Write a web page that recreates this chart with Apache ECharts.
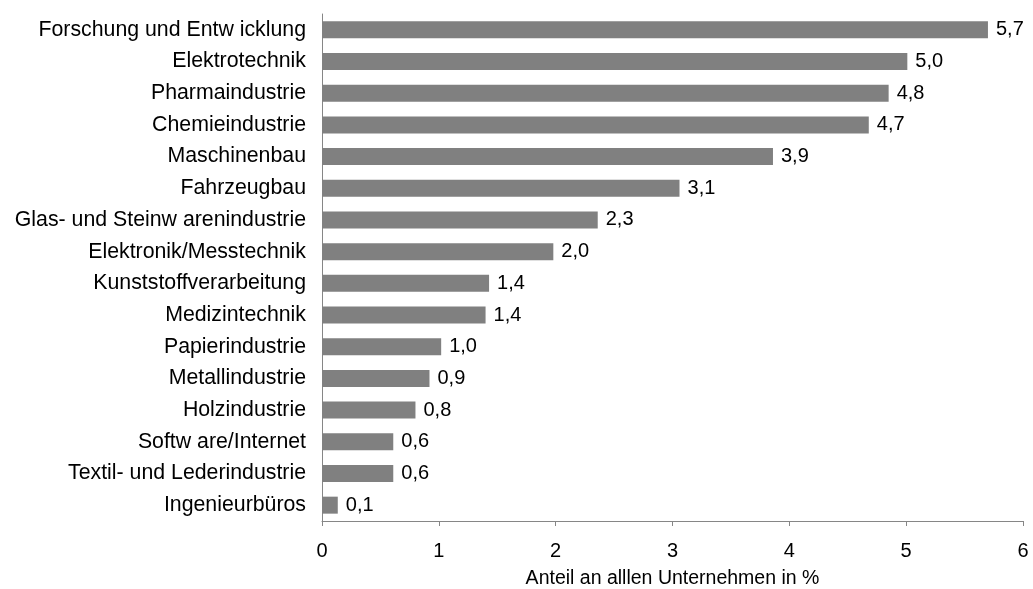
<!DOCTYPE html>
<html>
<head>
<meta charset="utf-8">
<script src="https://cdn.jsdelivr.net/npm/echarts@6/dist/echarts.min.js"></script>
<style>
html,body{margin:0;padding:0;background:#fff;}
#chart{width:1033px;height:589px;}
</style>
</head>
<body>
<div id="chart"></div>
<script>
const categories = [
  "Forschung und Entw icklung",
  "Elektrotechnik",
  "Pharmaindustrie",
  "Chemieindustrie",
  "Maschinenbau",
  "Fahrzeugbau",
  "Glas- und Steinw arenindustrie",
  "Elektronik/Messtechnik",
  "Kunststoffverarbeitung",
  "Medizintechnik",
  "Papierindustrie",
  "Metallindustrie",
  "Holzindustrie",
  "Softw are/Internet",
  "Textil- und Lederindustrie",
  "Ingenieurbüros"
];
const barValues = [5.70, 5.01, 4.85, 4.68, 3.86, 3.06, 2.36, 1.98, 1.43, 1.40, 1.02, 0.92, 0.80, 0.61, 0.61, 0.135];
const valueLabels = ["5,7", "5,0", "4,8", "4,7", "3,9", "3,1", "2,3", "2,0", "1,4", "1,4", "1,0", "0,9", "0,8", "0,6", "0,6", "0,1"];
const xTicks = [0, 1, 2, 3, 4, 5, 6];
const axisTitle = "Anteil an alllen Unternehmen in %";

const FONT = "'Liberation Sans', Arial, sans-serif";
const chart = echarts.init(document.getElementById('chart'), null, {renderer: 'canvas'});
chart.setOption({
  animation: false,
  backgroundColor: '#ffffff',
  grid: {left: 322, right: 10, top: 14, bottom: 68, containLabel: false, outerBoundsMode: 'none'},
  xAxis: {
    type: 'value',
    min: xTicks[0],
    max: xTicks[xTicks.length - 1],
    interval: 1,
    splitLine: {show: false},
    axisLine: {show: true, lineStyle: {color: '#868686', width: 1}},
    axisTick: {show: true, length: 5, lineStyle: {color: '#868686'}},
    axisLabel: {color: '#000', fontFamily: FONT, fontSize: 20, margin: 20,
      formatter: v => String(v)},
    name: axisTitle,
    nameLocation: 'middle',
    nameGap: 48,
    nameTextStyle: {color: '#000', fontFamily: FONT, fontSize: 19.5}
  },
  yAxis: {
    type: 'category',
    data: categories,
    inverse: true,
    axisLine: {show: true, lineStyle: {color: '#868686', width: 1}},
    axisTick: {show: false},
    axisLabel: {color: '#000', fontFamily: FONT, fontSize: 21.3, margin: 16}
  },
  series: [{
    type: 'bar',
    data: barValues,
    barWidth: 17,
    itemStyle: {color: '#808080'},
    label: {
      show: true,
      position: 'right',
      distance: 8,
      color: '#000',
      fontFamily: FONT,
      fontSize: 20,
      formatter: p => valueLabels[p.dataIndex]
    }
  }]
});
</script>
</body>
</html>
